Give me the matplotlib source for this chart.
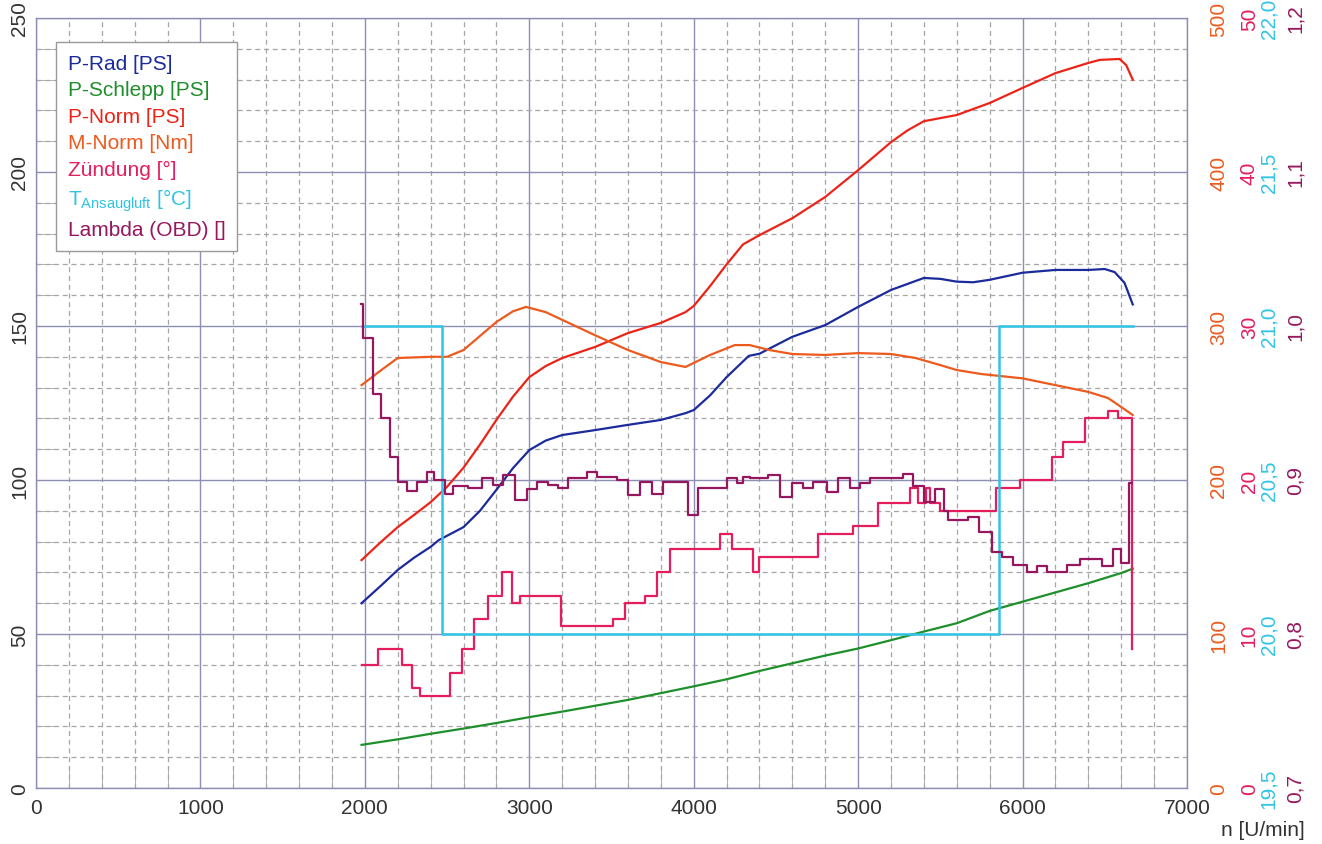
import numpy as np
import matplotlib
matplotlib.use("Agg")
from matplotlib import pyplot as plt
from matplotlib.ticker import MultipleLocator, FixedLocator, FuncFormatter

plt.rcParams['font.family'] = ['Liberation Sans', 'DejaVu Sans']
plt.rcParams['mathtext.fontset'] = 'custom'
plt.rcParams['mathtext.rm'] = 'Liberation Sans'
plt.rcParams['mathtext.it'] = 'Liberation Sans:italic'

# ---- data ----
# smooth curves: rpm / value
rad_rpm = [1980, 2100, 2200, 2300, 2400, 2450, 2600, 2700, 2800, 2900, 3000, 3100, 3200, 3400,
           3600, 3800, 3950, 4000, 4100, 4200, 4335, 4400, 4600, 4800, 5000, 5200, 5400, 5500,
           5600, 5700, 5800, 6000, 6200, 6400, 6500, 6560, 6620, 6670]
rad_ps = [60, 65.8, 70.8, 74.8, 78.3, 80.5, 84.7, 90.0, 96.8, 103.8, 109.7, 112.8, 114.6, 116.2,
          117.9, 119.5, 121.7, 122.7, 127.5, 133.4, 140.3, 141, 146.5, 150.3, 156.2, 161.7, 165.6, 165.3,
          164.4, 164.2, 165, 167.3, 168.2, 168.2, 168.5, 167.5, 164, 157]

schlepp_rpm = [1980, 2200, 2400, 2600, 2800, 3000, 3200, 3400, 3600, 3800, 4000, 4200, 4400,
               4600, 4800, 5000, 5200, 5400, 5600, 5800, 6000, 6200, 6400, 6600, 6670]
schlepp_ps = [14.0, 15.8, 17.6, 19.3, 21.1, 23.0, 24.8, 26.7, 28.6, 30.8, 33.0, 35.3, 38.0,
              40.5, 43.0, 45.3, 48.0, 50.8, 53.5, 57.5, 60.5, 63.5, 66.5, 69.8, 71.2]

norm_rpm = [1980, 2100, 2200, 2300, 2400, 2500, 2600, 2700, 2800, 2900, 3000, 3100, 3200, 3400,
            3600, 3800, 3950, 4000, 4100, 4200, 4300, 4400, 4600, 4800, 5000, 5200, 5300, 5400,
            5500, 5600, 5800, 6000, 6200, 6400, 6470, 6590, 6630, 6670]
norm_ps = [74, 80.0, 84.7, 88.7, 92.8, 97.8, 104, 111.5, 119.5, 127.0, 133.4, 137.0, 139.6, 143.2,
           147.7, 151, 154.5, 156.5, 163, 170, 176.5, 179.5, 185, 191.9, 200.6, 209.7, 213.5, 216.5,
           217.5, 218.5, 222.4, 227.3, 232.1, 235.4, 236.4, 236.7, 234.7, 230]

mnorm_rpm = [1980, 2100, 2200, 2400, 2500, 2600, 2700, 2800, 2900, 2980, 3100, 3200, 3400, 3600,
             3800, 3950, 4100, 4250, 4340, 4460, 4600, 4800, 5000, 5200, 5350, 5500, 5600, 5750,
             6000, 6200, 6400, 6520, 6600, 6670]
mnorm_nm = [261.6, 271.4, 279.2, 280, 280, 284.4, 293.5, 302.6, 309.5, 312.4, 309.0, 304, 294, 284.4,
            276.6, 273.4, 281.2, 287.6, 287.6, 284.4, 281.8, 281.2, 282.4, 281.8, 279.2, 274.6, 271.4, 268.8,
            266, 261.6, 257.2, 253.2, 247.4, 242.2]

# step curves: rpm where each level starts / level
zund_rpm = [1980, 2080, 2225, 2285, 2335, 2517, 2590, 2663, 2748, 2833, 2894, 2942, 3191,
            3508, 3581, 3702, 3775, 3854, 4158, 4231, 4360, 4400, 4754, 4967, 5119, 5313,
            5362, 5410, 5440, 5500, 5836, 5982, 6176, 6245, 6377, 6517, 6578, 6665]
zund_deg = [8.0, 9.0, 8.0, 6.5, 6.0, 7.5, 9.0, 11.0, 12.5, 14.0, 12.0, 12.5, 10.5,
            11.0, 12.0, 12.5, 14.0, 15.5, 16.5, 15.5, 14.0, 15.0, 16.5, 17.0, 18.5, 19.5,
            18.5, 19.5, 18.5, 18.0, 19.5, 20.0, 21.5, 22.5, 24.0, 24.5, 24.0, 9.0]

temp_rpm = [1980, 2470, 5855, 6670]
temp_c = [21.0, 20.0, 21.0, 21.0]

lam_rpm = [1975, 1990, 2050, 2101, 2152, 2203, 2255, 2316, 2377, 2420, 2486, 2535, 2626,
           2711, 2778, 2839, 2912, 2985, 3046, 3112, 3173, 3234, 3350, 3410, 3532, 3599,
           3672, 3745, 3812, 3964, 4024, 4200, 4261, 4298, 4340, 4450, 4523, 4595, 4663,
           4723, 4808, 4875, 4948, 5010, 5070, 5270, 5331, 5400, 5470, 5520, 5544, 5666,
           5738, 5812, 5872, 5939, 6024, 6085, 6146, 6273, 6347, 6486, 6547, 6600, 6650, 6668]
lam_val = [1.014, 0.992, 0.956, 0.940, 0.915, 0.899, 0.893, 0.899, 0.905, 0.900, 0.891, 0.896, 0.895,
           0.901, 0.897, 0.903, 0.887, 0.894, 0.899, 0.897, 0.895, 0.901, 0.905, 0.902, 0.900, 0.890,
           0.899, 0.891, 0.899, 0.877, 0.895, 0.901, 0.898, 0.902, 0.901, 0.903, 0.889, 0.898, 0.895,
           0.899, 0.892, 0.901, 0.895, 0.898, 0.901, 0.904, 0.896, 0.886, 0.894, 0.880, 0.874, 0.876,
           0.866, 0.853, 0.850, 0.845, 0.840, 0.844, 0.840, 0.845, 0.849, 0.844, 0.855, 0.846, 0.898, 0.898]

c_rad = '#1c2b9c'
c_schlepp = '#1f8f2c'
c_norm = '#ec2418'
c_mnorm = '#ec5a1e'
c_zund = '#e41d5c'
c_temp = '#30c4e4'
c_lam = '#96175e'
c_major = '#8e8eb4'
c_minor = '#a6a6a6'


def comma(v, pos):
    return ('%.1f' % v).replace('.', ',')


def main():
    fig = plt.figure(figsize=(13.22, 8.45), dpi=100)
    ax = fig.add_axes([36 / 1322, 1 - 789 / 845, 1151 / 1322, 770 / 845])

    ax.set_xlim(0, 7000)
    ax.set_ylim(0, 250)
    ax.xaxis.set_major_locator(MultipleLocator(1000))
    ax.xaxis.set_minor_locator(MultipleLocator(200))
    ax.yaxis.set_major_locator(MultipleLocator(50))
    ax.yaxis.set_minor_locator(MultipleLocator(10))
    ax.grid(True, which='major', color=c_major, lw=1.0, ls='-')
    ax.grid(True, which='minor', color=c_minor, lw=0.9, ls=(0, (4, 3)))
    ax.set_axisbelow(True)
    for s in ax.spines.values():
        s.set_color(c_major)
        s.set_linewidth(1.0)
    ax.tick_params(which='both', direction='in', colors=c_minor, labelcolor='#333333',
                   labelsize=15, right=True)
    ax.tick_params(which='major', length=0)
    ax.tick_params(which='minor', length=14)
    ax.tick_params(axis='x', pad=7)
    ax.tick_params(axis='y', pad=5)
    for lab in ax.get_yticklabels():
        lab.set_rotation(90)
        lab.set_va('center')
    ax.set_xlabel('n [U/min]', fontsize=15, color='#333333', ha='right', va='center')
    ax.xaxis.set_label_coords(1.1025, -0.0545)

    l_rad, = ax.plot(rad_rpm, rad_ps, color=c_rad, lw=1.6, label='P-Rad [PS]')
    l_sch, = ax.plot(schlepp_rpm, schlepp_ps, color=c_schlepp, lw=1.6, label='P-Schlepp [PS]')
    l_norm, = ax.plot(norm_rpm, norm_ps, color=c_norm, lw=1.6, label='P-Norm [PS]')

    # extra scales on the right
    specs = [
        (c_mnorm, (0, 500), [0, 100, 200, 300, 400, 500], 16, None),
        (c_zund, (0, 50), [0, 10, 20, 30, 40, 50], 38, None),
        (c_temp, (19.5, 22.0), [19.5, 20.0, 20.5, 21.0, 21.5, 22.0], 52, comma),
        (c_lam, (0.7, 1.2), [0.7, 0.8, 0.9, 1.0, 1.1, 1.2], 71, comma),
    ]
    twins = []
    for col, lim, ticks, pad, fmt in specs:
        tw = ax.twinx()
        tw.set_ylim(*lim)
        tw.yaxis.set_major_locator(FixedLocator(ticks))
        if fmt is not None:
            tw.yaxis.set_major_formatter(FuncFormatter(fmt))
        tw.tick_params(axis='y', length=0, pad=pad, labelsize=15, labelcolor=col)
        for lab in tw.get_yticklabels():
            lab.set_rotation(90)
            lab.set_va('center')
        for s in tw.spines.values():
            s.set_visible(False)
        twins.append(tw)
    ax_m, ax_z, ax_t, ax_l = twins

    l_m, = ax_m.plot(mnorm_rpm, mnorm_nm, color=c_mnorm, lw=1.6, label='M-Norm [Nm]')
    l_z, = ax_z.step(zund_rpm, zund_deg, where='post', color=c_zund, lw=1.6, label='Zündung [°]')
    l_t, = ax_t.step(temp_rpm, temp_c, where='post', color=c_temp, lw=1.8,
                     label=r'T$_{\mathrm{Ansaugluft}}$ [°C]')
    l_l, = ax_l.step(lam_rpm, lam_val, where='post', color=c_lam, lw=1.6, label='Lambda (OBD) []')

    handles = [l_rad, l_sch, l_norm, l_m, l_z, l_t, l_l]
    leg = ax_l.legend(handles=handles, loc='upper left', bbox_to_anchor=(0.0174, 0.969),
                      borderaxespad=0, handlelength=0, handletextpad=0, fontsize=15,
                      labelspacing=0.36, borderpad=0.56, fancybox=False, framealpha=1,
                      edgecolor='#9a9a9a', labelcolor='linecolor')
    leg.get_frame().set_linewidth(1.0)
    for h in leg.legend_handles:
        h.set_visible(False)

    fig.savefig('out.png', dpi=100)
    plt.close(fig)


if __name__ == "__main__":
    main()
